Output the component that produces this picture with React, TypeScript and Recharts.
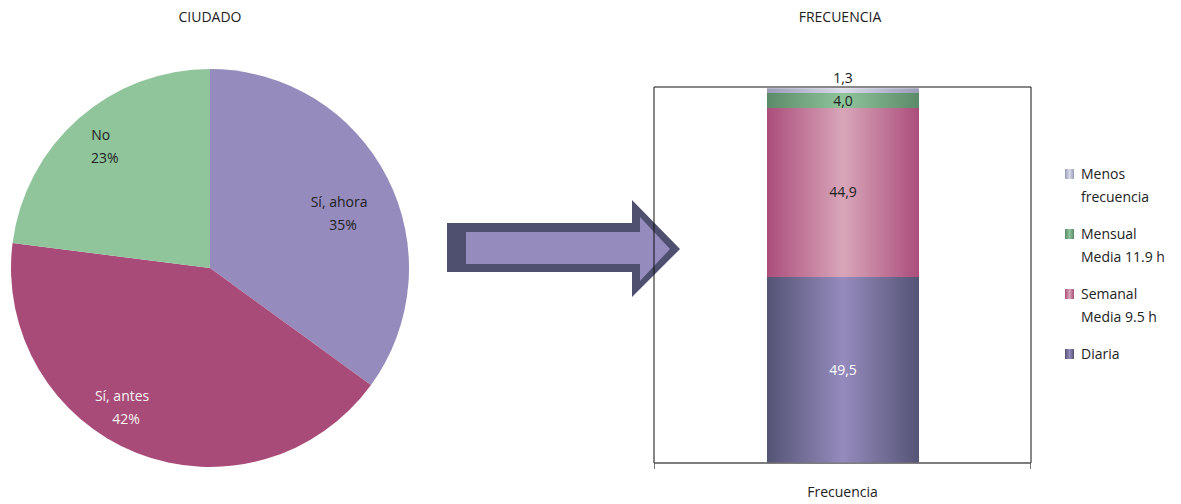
import { PieChart, Pie, Cell, BarChart, Bar, XAxis, YAxis, LabelList, ReferenceArea } from 'recharts';

const FONT = '"Open Sans", "Noto Sans", sans-serif';

// Pie data
const pieNames = ['Sí, ahora', 'Sí, antes', 'No'];
const pieValues = [35, 42, 23];
const pieColors = ['#958bbd', '#a94b78', '#90c59c'];
const pieLabelColors = ['#222', '#f4f4f4', '#222'];
// label placement tweaks (radius factor, angle shift in degrees)
const labelRadius = [0.71, 0.82, 0.83];
const labelShift = [-3, -11, 0];

// Stacked bar data
const barCategories = ['Frecuencia'];
const seriesKeys = ['diaria', 'semanal', 'mensual', 'menos'];
const seriesLabels = [['Diaria'], ['Semanal', 'Media 9.5 h'], ['Mensual', 'Media 11.9 h'], ['Menos', 'frecuencia']];
const diaria = [49.5];
const semanal = [44.9];
const mensual = [4.0];
const menos = [1.3];
const seriesValues = [diaria, semanal, mensual, menos];

// edge / centre colours for the cylinder-like gradients
const gradEdge = ['#545475', '#ab4d7b', '#5b8a68', '#9a9cb8'];
const gradMid = ['#958bbd', '#d8a6b9', '#8fc59b', '#d9dbea'];
const valueColors = ['#ffffff', '#222', '#222', '#222'];

const pieData = pieNames.map((name, i) => ({ name, value: pieValues[i] }));

const barData = barCategories.map((cat, i) => {
    const row: any = { cat };
    seriesKeys.forEach((k, j) => { row[k] = seriesValues[j][i]; });
    return row;
});

const fmt = (v: any) => Number(v).toFixed(1).replace('.', ',');

const RADIAN = Math.PI / 180;

const PieLabel = ({ cx, cy, midAngle, outerRadius, index, percent }: any) => {
    const r = outerRadius * labelRadius[index];
    const a = (midAngle + labelShift[index]) * RADIAN;
    const x = cx + r * Math.cos(-a);
    const y = cy + r * Math.sin(-a);
    return (
        <text x={x} y={y} fill={pieLabelColors[index]} fontSize={14} fontFamily={FONT} textAnchor="middle">
            <tspan x={x} dy={-4}>{pieNames[index]}</tspan>
            <tspan x={x + 4} dy={23}>{Math.round(percent * 100)}%</tspan>
        </text>
    );
};

const Arrow = () => (
    <svg width={1181} height={504} style={{ position: 'absolute', left: 0, top: 0 }}>
        <polygon points="447,223 632,223 632,200 680,249 632,297 632,272 447,272" fill="#4f4f6f" />
        <polygon points="466,232 640,232 640,217 670,249 640,281 640,264 466,264" fill="#958bbd" />
        <line x1={654.5} y1={463} x2={654.5} y2={469} stroke="#777" />
        <line x1={1030.5} y1={463} x2={1030.5} y2={469} stroke="#777" />
    </svg>
);

const App = () => {
    return (
        <div style={{ position: 'absolute', left: 0, top: 0, width: 1181, height: 504, background: '#fff', fontFamily: FONT, color: '#222' }}>
            <div style={{ position: 'absolute', left: 110, width: 200, top: 7, textAlign: 'center', fontSize: 14 }}>CIUDADO</div>
            <div style={{ position: 'absolute', left: 740, width: 200, top: 7, textAlign: 'center', fontSize: 14 }}>FRECUENCIA</div>

            <div style={{ position: 'absolute', left: 0, top: 0 }}>
                <PieChart width={420} height={504} margin={{ top: 0, right: 0, bottom: 0, left: 0 }}>
                    <Pie
                        data={pieData}
                        dataKey="value"
                        cx={210}
                        cy={268}
                        outerRadius={199}
                        startAngle={90}
                        endAngle={-270}
                        stroke="none"
                        label={<PieLabel />}
                        labelLine={false}
                        isAnimationActive={false}
                    >
                        {pieData.map((d, i) => (
                            <Cell key={d.name} fill={pieColors[i]} />
                        ))}
                    </Pie>
                </PieChart>
            </div>

            <Arrow />

            <div style={{ position: 'absolute', left: 560, top: 0 }}>
                <BarChart width={621} height={504} data={barData} margin={{ top: 87, right: 150, bottom: 11, left: 94 }} barSize={152}>
                    <defs>
                        {seriesKeys.map((k, i) => (
                            <linearGradient key={k} id={`g-${k}`} x1="0" y1="0" x2="1" y2="0">
                                <stop offset="0%" stopColor={gradEdge[i]} />
                                <stop offset="50%" stopColor={gradMid[i]} />
                                <stop offset="100%" stopColor={gradEdge[i]} />
                            </linearGradient>
                        ))}
                    </defs>
                    <XAxis
                        dataKey="cat"
                        height={30}
                        axisLine={{ stroke: '#777' }}
                        tickLine={false}
                        tickSize={0}
                        tickMargin={24}
                        tick={{ fill: '#222', fontSize: 14, fontFamily: FONT }}
                    />
                    <YAxis hide domain={[0, 100]} />
                    <ReferenceArea x1="Frecuencia" x2="Frecuencia" y1={0} y2={100} fill="none" stroke="#111" strokeWidth={1} />
                    {seriesKeys.map((k, i) => (
                        <Bar key={k} dataKey={k} stackId="a" fill={`url(#g-${k})`} isAnimationActive={false}>
                            <LabelList
                                dataKey={k}
                                position={k === 'menos' ? 'top' : 'center'}
                                offset={5}
                                formatter={fmt}
                                fill={valueColors[i]}
                                fontSize={14}
                                fontFamily={FONT}
                            />
                        </Bar>
                    ))}
                </BarChart>
            </div>

            <div style={{ position: 'absolute', left: 1065, top: 162, fontSize: 14, lineHeight: '23px' }}>
                {seriesKeys.map((k, i) => ({ k, i })).reverse().map(({ k, i }) => (
                    <div key={k} style={{ position: 'relative', paddingLeft: 16, marginBottom: 14 }}>
                        <span style={{
                            position: 'absolute', left: 0, top: 7, width: 9, height: 10,
                            background: `linear-gradient(to right, ${gradEdge[i]}, ${gradMid[i]}, ${gradEdge[i]})`,
                        }} />
                        {seriesLabels[i].map((line) => (
                            <div key={line}>{line}</div>
                        ))}
                    </div>
                ))}
            </div>
        </div>
    );
};

export default App;
